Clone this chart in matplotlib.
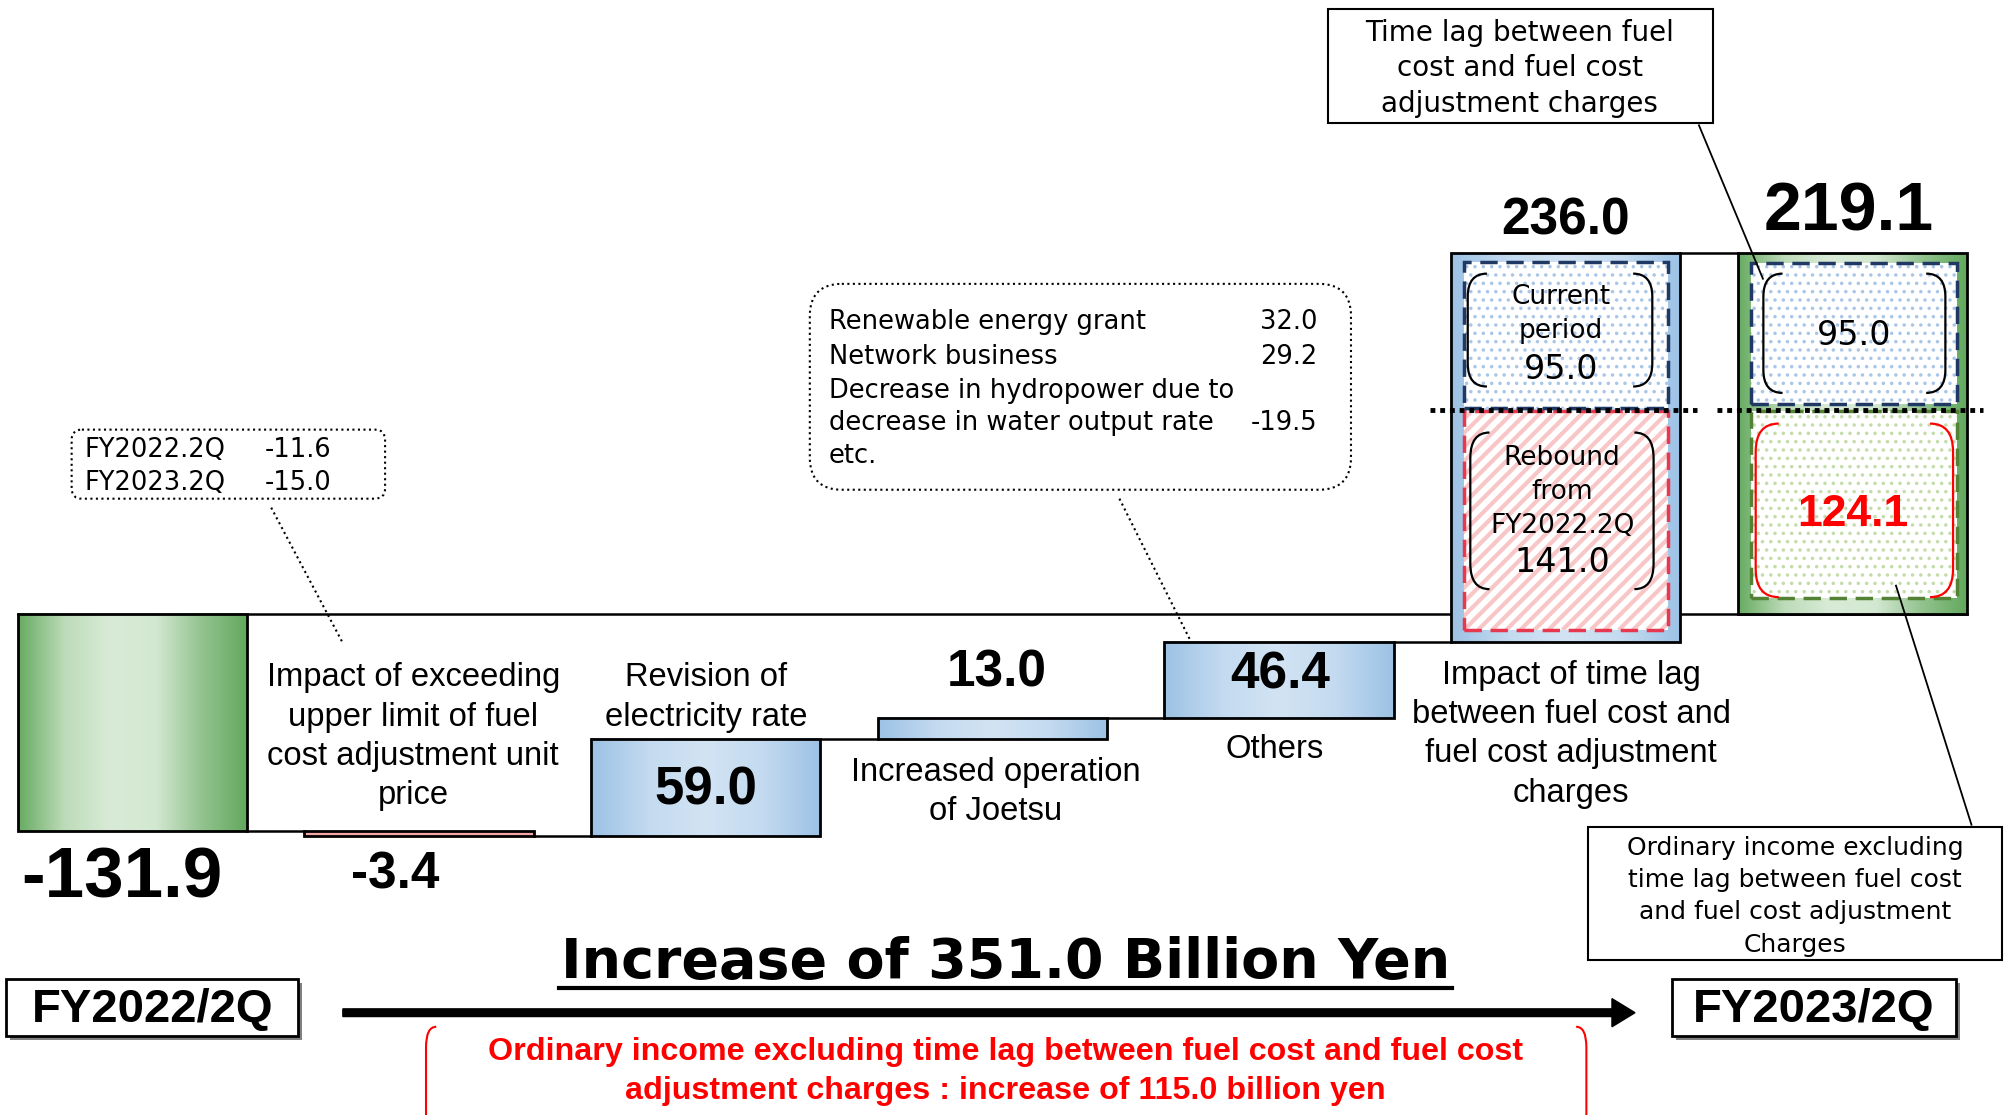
import matplotlib
matplotlib.use('Agg')
import numpy as np
import matplotlib.pyplot as plt
import matplotlib.patches as patches
from matplotlib.path import Path
from matplotlib.colors import LinearSegmentedColormap
from matplotlib import font_manager

# ---- data (billion yen) ----
categories = ['FY2022/2Q',
              'Impact of exceeding\nupper limit of fuel\ncost adjustment unit\nprice',
              'Revision of\nelectricity rate',
              'Increased operation\nof Joetsu',
              'Others',
              'Impact of time lag\nbetween fuel cost and\nfuel cost adjustment\ncharges',
              'FY2023/2Q']
values = [-131.9, -3.4, 59.0, 13.0, 46.4, 236.0, 219.1]
totals = [True, False, False, False, False, False, True]
timelag_parts = [141.0, 95.0]      # rebound from FY2022.2Q, current period
final_parts = [124.1, 95.0]        # excluding time lag, time lag
excl_increase = 115.0
others_names = ['Renewable energy grant', 'Network business',
                'Decrease in hydropower due to', 'decrease in water output rate', 'etc.']
others_values = ['32.0', '29.2', '', '-19.5', '']
upper_limit_years = ['FY2022.2Q', 'FY2023.2Q']
upper_limit_values = [-11.6, -15.0]

plt.rcParams['font.family'] = ['Liberation Sans', 'DejaVu Sans']
plt.rcParams['hatch.linewidth'] = 1.3
installed = {f.name for f in font_manager.fontManager.ttflist}
narrow = 'Liberation Sans Narrow' in installed
DJ = 'DejaVu Sans'

fig = plt.figure(figsize=(20.06, 11.15), dpi=100)
ax = fig.add_axes([0, 0, 1, 1])
ax.axis('off')

x = np.arange(len(values))
W = 0.8
PX = 1 / 224.08      # one reference pixel in x data units
PY = 1 / 1.2871      # one reference pixel in value units

# running levels of the waterfall
bottoms, heights, ends = [], [], []
level = 0.0
for v, t in zip(values, totals):
    start = 0.0 if t else level
    level = start + v
    bottoms.append(start)
    heights.append(v)
    ends.append(level)

green = LinearSegmentedColormap.from_list('g', ['#67ab62', '#bcdbb8', '#d9ebd7', '#d3e8d1', '#93c38f', '#62a85d'])
blue = LinearSegmentedColormap.from_list('b', ['#9cc2e5', '#c3daf0', '#d2e4f4', '#c3daf0', '#9cc2e5'])
grad = np.linspace(0, 1, 256).reshape(1, -1)

bars = ax.bar(x, heights, bottom=bottoms, width=W, facecolor='none',
              edgecolor='black', linewidth=2, zorder=5)
for i, b in enumerate(bars):
    x0, x1 = b.get_x(), b.get_x() + b.get_width()
    y0, y1 = sorted([b.get_y(), b.get_y() + b.get_height()])
    if values[i] < 0 and not totals[i]:
        ax.add_patch(patches.Rectangle((x0, y0), x1 - x0, y1 - y0, facecolor='#f4a7a7', zorder=2))
        continue
    cmap = green if totals[i] else blue
    ax.imshow(grad, cmap=cmap, extent=(x0, x1, y0, y1), aspect='auto',
              interpolation='bicubic', zorder=2)

# zero line and connectors
ax.plot([x[0] - W / 2, x[-1] + W / 2], [0, 0], color='black', lw=1.8, zorder=1)
for i in range(len(values) - 1):
    ax.plot([x[i] + W / 2, x[i + 1] - W / 2], [ends[i], ends[i]], color='black', lw=1.8, zorder=1)


def inner_box(xc, lo, hi, fill, fill_color, edge, inset_l=10, inset_r=10):
    xl = xc - W / 2 + inset_l * PX
    xr = xc + W / 2 - inset_r * PX
    base = patches.Rectangle((xl, lo), xr - xl, hi - lo, facecolor='white', lw=0, zorder=3)
    ax.add_patch(base)
    if fill == 'dots':
        ax.add_patch(patches.Rectangle((xl, lo), xr - xl, hi - lo, facecolor='none',
                                       edgecolor=fill_color, lw=0, hatch='..', zorder=3.5))
    else:
        # diagonal stripes, 45 degrees on screen, clipped to the box
        step = 11
        n = int(((xr - xl) / PX + (hi - lo) / PY) / step) + 2
        for k in range(-n, n):
            sx = xl + k * step * PX
            ln, = ax.plot([sx, sx + 400 * PX], [lo, lo + 400 * PY], color=fill_color,
                          lw=3.0, zorder=3.5, solid_capstyle='butt')
            ln.set_clip_path(base)
    ax.add_patch(patches.Rectangle((xl, lo), xr - xl, hi - lo, facecolor='none', edgecolor=edge,
                                   lw=2.5, linestyle=(0, (5, 2.5)), zorder=4))


def brackets(axx, x0, x1, y0, y1, rx, ry, color, lw=1.6):
    for xe, xi in ((x0, x0 + rx), (x1, x1 - rx)):
        verts = [(xi, y1), (xe, y1), (xe, y1 - ry), (xe, y0 + ry), (xe, y0), (xi, y0)]
        codes = [Path.MOVETO, Path.CURVE3, Path.CURVE3, Path.LINETO, Path.CURVE3, Path.CURVE3]
        axx.add_patch(patches.PathPatch(Path(verts, codes), fill=False, edgecolor=color, lw=lw, zorder=8))


# time lag bar (index 5) split into rebound part and current period part
i5 = 5
split5 = bottoms[i5] + timelag_parts[0]
inner_box(x[i5], bottoms[i5] + 9 * PY, split5 - 1.5 * PY, 'stripes', '#f8c6c6', '#e8384f')
inner_box(x[i5], split5 + 1.5 * PY, ends[i5] - 7 * PY, 'dots', '#a9c6e8', '#1f3864')
ax.plot([x[i5] - 0.473, x[i5] + 0.456], [split5, split5], color='black', lw=3.5,
        linestyle=(0, (1, 1)), zorder=6)
brackets(ax, x[i5] - W / 2 + 13 * PX, x[i5] + W / 2 - 22 * PX, split5 + 18 * PY, ends[i5] - 16 * PY,
         15 * PX, 18 * PY, 'black')
brackets(ax, x[i5] - W / 2 + 15 * PX, x[i5] + W / 2 - 21 * PX, bottoms[i5] + 41 * PY, split5 - 18 * PY,
         15 * PX, 20 * PY, 'black')

# final bar (index 6) split
i6 = 6
split6 = final_parts[0]
inner_box(x[i6], 12 * PY, split6 - 1.5 * PY, 'dots', '#c3dca9', '#548235', 10, 8)
inner_box(x[i6], split6 + 4 * PY, ends[i6] - 8 * PY, 'dots', '#a9c6e8', '#1f3864', 10, 8)
ax.plot([x[i6] - 0.473, x[i6] + 0.455], [split6, split6], color='black', lw=3.5,
        linestyle=(0, (1, 1)), zorder=6)
brackets(ax, x[i6] - W / 2 + 20 * PX, x[i6] + W / 2 - 17 * PX, split6 + 13 * PY, ends[i6] - 16 * PY,
         15 * PX, 18 * PY, 'black')
brackets(ax, x[i6] - W / 2 + 14 * PX, x[i6] + W / 2 - 11 * PX, 13 * PY, split6 - 11 * PY,
         18 * PX, 22 * PY, '#ff0000')

ax.set_xlim(-103.5 * PX, (1568 - 103.5) * PX)
ax.set_ylim((480 - 872) * PY, 480 * PY)

# ---- overlay in reference pixel units for annotations ----
ov = fig.add_axes([0, 0, 1, 1], zorder=5)
ov.set_xlim(0, 1568)
ov.set_ylim(872, 0)
ov.axis('off')


def put(lines, xc, y0, dy, **kw):
    kw.setdefault('ha', 'center')
    for k, s in enumerate(lines):
        ov.text(xc, y0 + k * dy, s, va='center', **kw)


# value labels
val_pos = [(95, 688, 51), (309, 684, 37), (552, 618, 38), (779, 526, 37),
           (1001, 528, 37), (1224, 173, 37), (1445, 166, 49)]
for v, (px, py, fs) in zip(values, val_pos):
    ov.text(px, py, f'{v:.1f}', ha='center', va='center', fontsize=fs, weight='bold')

# category labels
cat_pos = [None, (323, 530), (552, 530), (778, 604), (996, 586), (1228, 528), None]
for c, p in zip(categories, cat_pos):
    if p is None:
        continue
    put(c.split('\n'), p[0], p[1], 30.8, fontsize=23.6)

# texts inside the split bars
put(['Current', 'period'], 1220, 232, 27, fontsize=19, family=DJ)
ov.text(1220, 289, f'{timelag_parts[1]:.1f}', ha='center', va='center', fontsize=24, family=DJ)
put(['Rebound', 'from', 'FY2022.2Q'], 1221, 358, 26.5, fontsize=19, family=DJ)
ov.text(1221, 440, f'{timelag_parts[0]:.1f}', ha='center', va='center', fontsize=24, family=DJ)
ov.text(1449, 262, f'{final_parts[1]:.1f}', ha='center', va='center', fontsize=24, family=DJ)
ov.text(1448, 402, f'{final_parts[0]:.1f}', ha='center', va='center', fontsize=32,
        weight='bold', color='#ff0000')

# callout: upper limit
ov.add_patch(patches.FancyBboxPatch((56, 336), 245, 54, boxstyle='round,pad=0,rounding_size=8',
                                    fc='white', ec='black', lw=1.5, ls=':'))
for k, (yr, val) in enumerate(zip(upper_limit_years, upper_limit_values)):
    ov.text(66, 352 + k * 26, yr, ha='left', va='center', fontsize=18.5, family=DJ)
    ov.text(207, 352 + k * 26, f'{val:.1f}', ha='left', va='center', fontsize=18.5, family=DJ)
ov.plot([212, 268], [397, 503], color='black', lw=1.5, ls=':')

# callout: others
ov.add_patch(patches.FancyBboxPatch((633, 222), 423, 161, boxstyle='round,pad=0,rounding_size=25',
                                    fc='white', ec='black', lw=1.5, ls=':'))
oy = [252, 279, 306, 331, 357]
for name, val, yy in zip(others_names, others_values, oy):
    ov.text(648, yy, name, ha='left', va='center', fontsize=18.5, family=DJ)
    if val:
        ov.text(1030, yy, val, ha='right', va='center', fontsize=18.5, family=DJ)
ov.plot([875, 930], [390, 500], color='black', lw=1.5, ls=':')

# callout: time lag
ov.add_patch(patches.Rectangle((1038, 7), 301, 89, fc='white', ec='black', lw=1.5))
put(['Time lag between fuel', 'cost and fuel cost', 'adjustment charges'], 1188, 26, 27.5,
    fontsize=20, family=DJ)
ov.plot([1328, 1378], [98, 218], color='black', lw=1.3)

# callout: ordinary income excluding time lag
ov.add_patch(patches.Rectangle((1241, 647), 324, 104, fc='white', ec='black', lw=1.5))
put(['Ordinary income excluding', 'time lag between fuel cost', 'and fuel cost adjustment', 'Charges'],
    1403, 663, 25.3, fontsize=18, family=DJ)
ov.plot([1541, 1482], [645, 458], color='black', lw=1.3)

# period boxes and arrow
fy_font = dict(family='Liberation Sans Narrow', fontsize=40) if narrow else dict(fontsize=34)
for (bx, bw, cx), label in zip([(5, 228, 119), (1307, 222, 1418)], [categories[0], categories[-1]]):
    ov.add_patch(patches.Rectangle((bx + 3, 769), bw, 44, fc='#808080', ec='none'))
    ov.add_patch(patches.Rectangle((bx, 766), bw, 44, fc='white', ec='black', lw=2))
    ov.text(cx, 790, label, ha='center', va='center', weight='bold', **fy_font)

ov.add_patch(patches.FancyArrow(268, 792, 1010, 0, width=6, head_width=22, head_length=18,
                                length_includes_head=True, fc='black', ec='black'))
total_change = values[-1] - values[0]
ov.text(786, 753, f'Increase of {total_change:.1f} Billion Yen', ha='center', va='center',
        fontsize=40, weight='bold', family=DJ)
ov.plot([437, 1135], [773, 773], color='black', lw=3)

red_font = dict(family='Liberation Sans Narrow', fontsize=26) if narrow else dict(fontsize=23.2)
put(['Ordinary income excluding time lag between fuel cost and fuel cost',
     f'adjustment charges : increase of {excl_increase:.1f} billion yen'], 786, 823, 30.5,
    color='#ff0000', weight='bold', **red_font)
brackets(ov, 333, 1240, 803, 890, 8, 16, '#ff0000', 1.5)

fig.savefig('out.png', dpi=100)
